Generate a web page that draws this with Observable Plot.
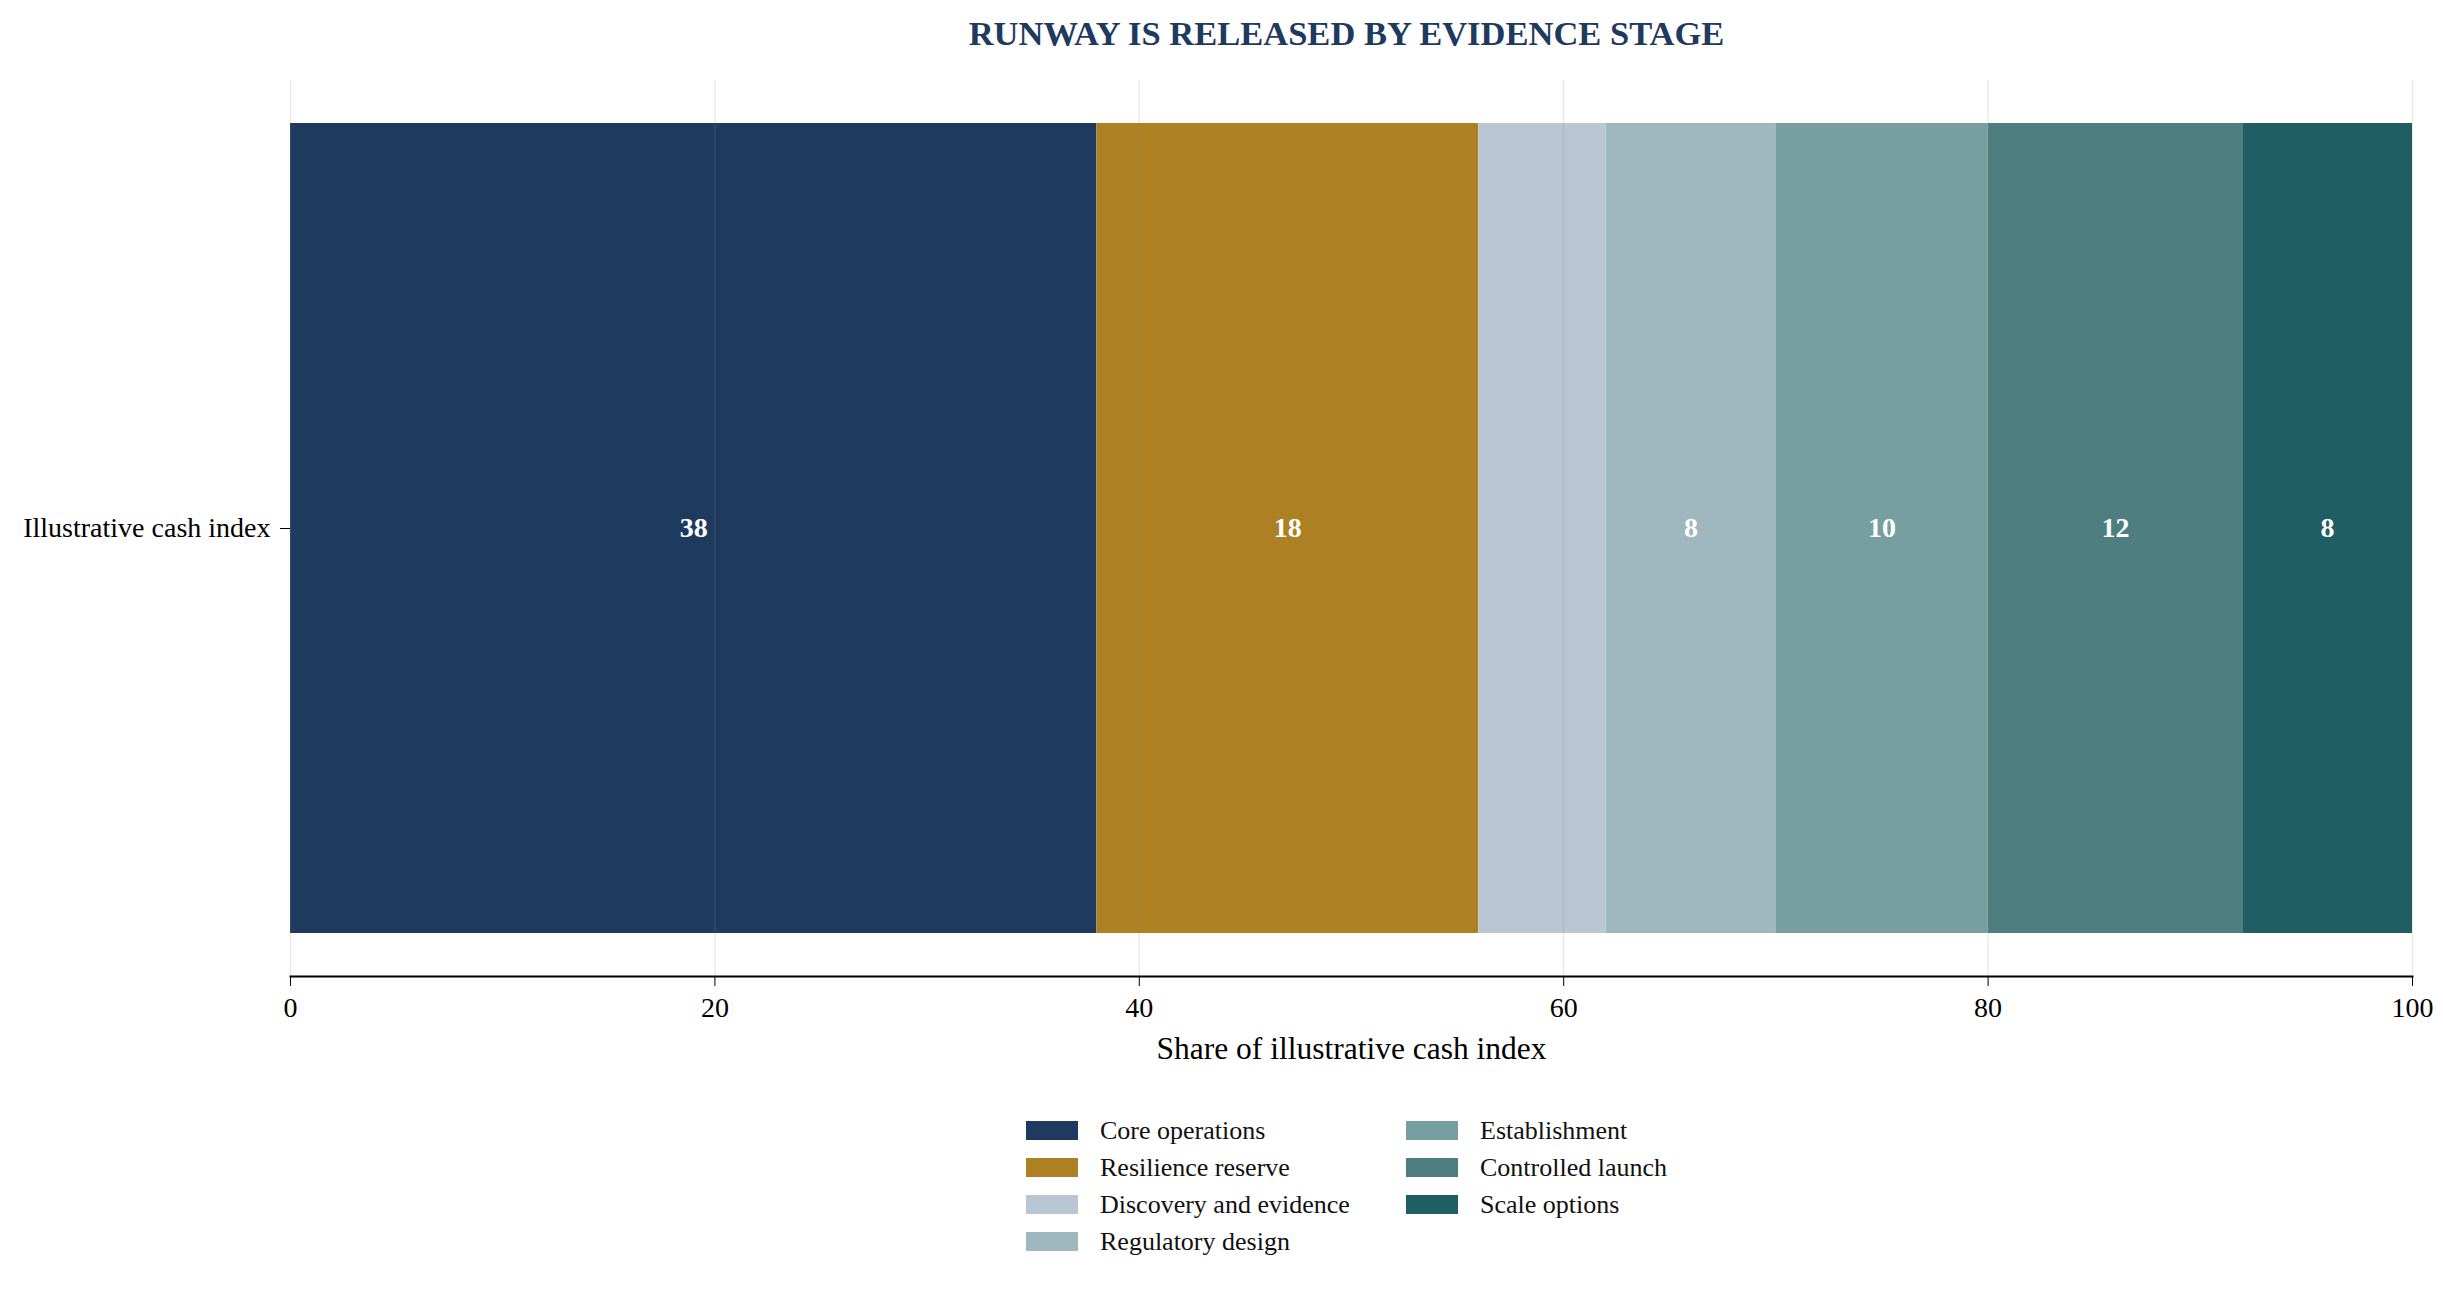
<!DOCTYPE html>
<html>
<head>
<meta charset="utf-8">
<script src="https://cdn.jsdelivr.net/npm/d3@7"></script>
<script src="https://cdn.jsdelivr.net/npm/@observablehq/plot@0.6"></script>
<style>
  html, body { margin: 0; padding: 0; background: #fff; }
  body { width: 2443px; font-family: "Liberation Serif", "DejaVu Serif", serif; }
  #title { height: 60px; box-sizing: border-box; padding-top: 13px; text-align: center; font-weight: bold; font-size: 34.5px; line-height: 40px; color: #1f3a5f; padding-left: 250px; }
  #legend { position: relative; height: 190px; }
  .col { position: absolute; top: 0; }
  .item { height: 37px; display: flex; align-items: center; font-size: 26px; color: #111; }
  .sw { width: 52px; height: 19px; margin-right: 22px; }
</style>
</head>
<body>
<div id="title">RUNWAY IS RELEASED BY EVIDENCE STAGE</div>
<div id="chart"></div>
<div id="legend"></div>
<script>
const category = "Illustrative cash index";
const stages = ["Core operations", "Resilience reserve", "Discovery and evidence", "Regulatory design", "Establishment", "Controlled launch", "Scale options"];
const values = [38, 18, 6, 8, 10, 12, 8];
const colors = ["#1f3a5f", "#ad8024", "#b8c7d3", "#9fb8bf", "#789f9f", "#4e7e80", "#1f5e63"];
const xTicks = [0, 20, 40, 60, 80, 100];
const xLabel = "Share of illustrative cash index";

const ends = d3.cumsum(values);
const data = stages.map((s, i) => ({
  cat: category, stage: s, value: values[i],
  x1: ends[i] - values[i], x2: ends[i], mid: ends[i] - values[i] / 2
}));

const plot = Plot.plot({
  width: 2443,
  height: 1030,
  marginTop: 20,
  marginBottom: 114,
  marginLeft: 290,
  marginRight: 31,
  style: { fontFamily: "Liberation Serif", fontSize: "28px", color: "#000", background: "#fff" },
  x: { domain: [0, 100] },
  y: { domain: [category], padding: 0.05 },
  color: { domain: stages, range: colors },
  marks: [
    Plot.barX(data, { x1: "x1", x2: "x2", y: "cat", fill: "stage" }),
    Plot.gridX(xTicks, { stroke: "#8c8c8c", strokeOpacity: 0.18, strokeWidth: 1.5 }),
    Plot.text(data.filter(d => d.value >= 8), { x: "mid", y: "cat", text: d => String(d.value), fill: "#fff", fontWeight: "bold", fontSize: 28 }),
    Plot.frame({ anchor: "bottom", stroke: "#000", strokeWidth: 2 }),
    Plot.axisX(xTicks, { tickSize: 10, tickPadding: 11, fontSize: 28, label: null }),
    Plot.text([xLabel], { frameAnchor: "bottom", dy: 82, fontSize: 31.5, fill: "#000" }),
    Plot.axisY({ tickSize: 10, tickPadding: 10, fontSize: 28, label: null })
  ]
});
document.getElementById("chart").appendChild(plot);

// legend (column-major, 4 rows)
const legend = document.getElementById("legend");
const rows = 4;
const colX = [1026, 1406];
for (let c = 0; c < Math.ceil(stages.length / rows); c++) {
  const col = document.createElement("div");
  col.className = "col";
  col.style.left = colX[c] + "px";
  col.style.top = "22px";
  for (let r = 0; r < rows; r++) {
    const i = c * rows + r;
    if (i >= stages.length) break;
    const it = document.createElement("div");
    it.className = "item";
    const sw = document.createElement("span");
    sw.className = "sw";
    sw.style.background = colors[i];
    const tx = document.createElement("span");
    tx.textContent = stages[i];
    it.appendChild(sw); it.appendChild(tx);
    col.appendChild(it);
  }
  legend.appendChild(col);
}
</script>
</body>
</html>
